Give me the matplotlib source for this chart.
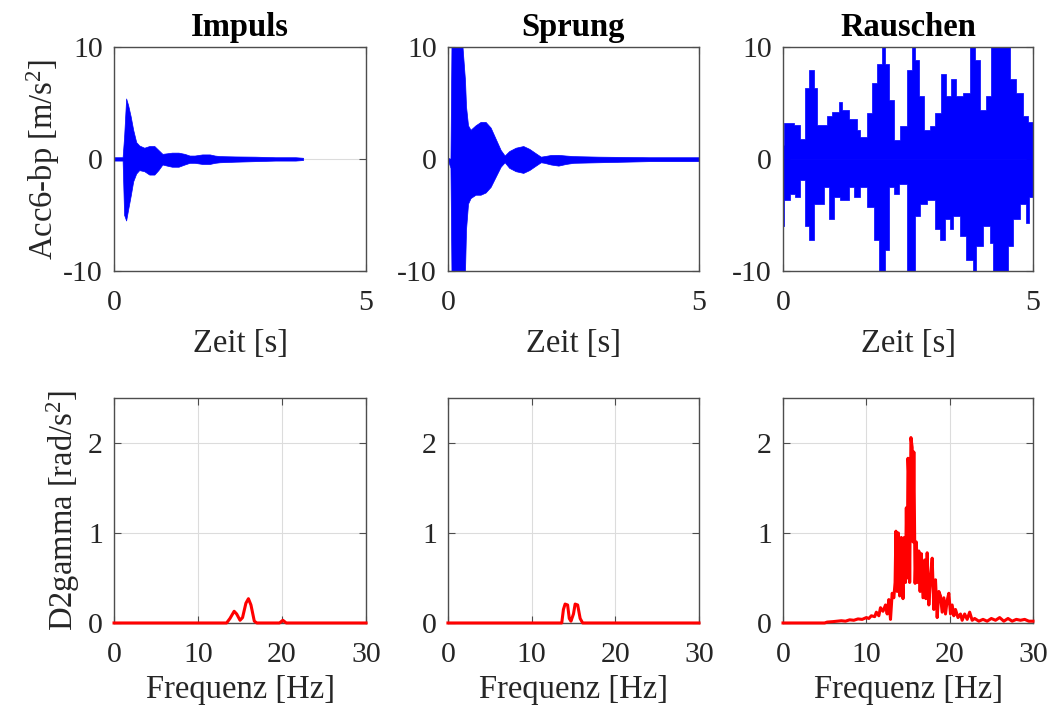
import matplotlib
matplotlib.use('Agg')
import matplotlib.pyplot as plt

plt.rcParams['font.family'] = ['Liberation Serif', 'DejaVu Serif']
plt.rcParams['mathtext.fontset'] = 'custom'
plt.rcParams['mathtext.rm'] = 'Liberation Serif'
plt.rcParams['mathtext.it'] = 'Liberation Serif:italic'
plt.rcParams['axes.unicode_minus'] = False

# ---- Zeitsignale (Hüllkurven oben/unten) ----
imp_t  = [0.00, 0.17, 0.20, 0.24, 0.28, 0.33, 0.38, 0.44, 0.50, 0.60, 0.70, 0.80, 0.88, 0.96,
          1.05, 1.15, 1.28, 1.40, 1.50, 1.60, 1.75, 1.90, 2.00, 2.10, 2.40, 2.80, 3.20, 3.60, 3.75]
imp_up = [0.15, 0.15, 2.0, 5.4, 4.8, 3.8, 2.6, 1.5, 1.2, 1.0, 1.15, 1.15, 0.8, 0.45,
          0.5, 0.56, 0.56, 0.45, 0.3, 0.3, 0.4, 0.4, 0.3, 0.25, 0.22, 0.2, 0.15, 0.15, 0.1]
imp_lo = [-0.15, -0.15, -5.0, -5.5, -4.5, -3.3, -2.0, -1.3, -1.0, -1.1, -1.4, -1.4, -1.0, -0.5,
          -0.6, -0.7, -0.7, -0.5, -0.35, -0.35, -0.45, -0.45, -0.35, -0.3, -0.25, -0.2, -0.15, -0.15, -0.1]

spr_t  = [0.00, 0.05, 0.07, 0.29, 0.34, 0.36, 0.40, 0.45, 0.55, 0.65, 0.75, 0.85, 0.95, 1.05,
          1.13, 1.22, 1.35, 1.50, 1.62, 1.75, 1.85, 1.92, 2.05, 2.20, 2.35, 2.50, 3.00, 4.00, 5.00]
spr_up = [0.1, 0.0, 10, 10, 7.0, 4.7, 3.0, 2.6, 3.0, 3.3, 3.3, 2.8, 1.8, 0.8,
          0.3, 0.7, 1.0, 1.15, 0.9, 0.5, 0.2, 0.25, 0.35, 0.36, 0.3, 0.25, 0.2, 0.15, 0.15]
spr_lo = [-0.1, -0.8, -10, -10, -10, -6.3, -4.0, -3.5, -3.2, -3.2, -3.0, -2.5, -1.6, -0.7,
          -0.3, -0.8, -1.1, -1.25, -1.0, -0.6, -0.3, -0.35, -0.5, -0.6, -0.45, -0.35, -0.3, -0.2, -0.2]

rau_up_t = [0.00, 0.02, 0.21, 0.34, 0.44, 0.51, 0.61, 0.67, 0.87, 0.97, 1.11, 1.17, 1.31, 1.47, 1.54,
            1.67, 1.77, 1.87, 1.97, 2.04, 2.11, 2.21, 2.34, 2.47, 2.57, 2.64, 2.71, 2.81, 2.94, 3.04,
            3.17, 3.27, 3.37, 3.47, 3.61, 3.74, 3.84, 3.94, 4.07, 4.17, 4.54, 4.67, 4.81, 4.91, 5.00]
rau_up   = [1.25, 3.2, 3.0, 1.8, 6.3, 7.9, 6.3, 3.0, 3.8, 4.2, 5.1, 4.4, 3.6, 2.6, 2.0,
            4.1, 6.8, 8.5, 10, 8.5, 5.3, 1.7, 2.9, 7.9, 10, 8.8, 5.6, 2.6, 2.9, 4.1,
            7.6, 5.6, 7.1, 5.6, 5.9, 10, 8.8, 4.4, 5.6, 10, 7.1, 5.9, 3.8, 3.3, 3.3]
rau_lo_t = [0.00, 0.02, 0.14, 0.24, 0.34, 0.44, 0.51, 0.61, 0.71, 0.81, 0.91, 1.01, 1.14, 1.31, 1.41,
            1.54, 1.67, 1.81, 1.91, 2.04, 2.11, 2.21, 2.31, 2.47, 2.64, 2.74, 2.87, 3.04, 3.14, 3.24,
            3.34, 3.41, 3.54, 3.67, 3.81, 3.87, 4.01, 4.14, 4.21, 4.51, 4.61, 4.74, 4.87, 4.93, 5.00]
rau_lo   = [-6.0, -3.7, -3.1, -3.4, -1.9, -6.0, -7.2, -4.0, -4.0, -2.5, -5.4, -3.4, -3.7, -2.5, -3.4,
            -2.5, -4.3, -7.2, -10, -8.1, -2.5, -3.1, -2.2, -10, -5.1, -4.0, -3.7, -6.3, -7.2, -5.4,
            -6.3, -5.1, -6.9, -9.0, -10, -7.8, -6.0, -7.5, -10, -7.8, -5.4, -4.0, -5.7, -3.4, -3.4]

# ---- Spektren ----
imp_f = [0, 13.4, 13.8, 14.3, 14.6, 15.0, 15.3, 15.7, 16.0, 16.3, 16.7, 17.0, 19.7, 20.1, 20.5, 30]
imp_a = [0, 0, 0.05, 0.13, 0.1, 0.03, 0.06, 0.22, 0.27, 0.2, 0.02, 0, 0, 0.03, 0, 0]

spr_f = [0, 13.6, 13.8, 14.0, 14.3, 14.5, 14.7, 15.0, 15.2, 15.5, 15.8, 16.1, 30]
spr_a = [0, 0, 0.15, 0.21, 0.2, 0.05, 0.02, 0.1, 0.21, 0.2, 0.05, 0, 0]

rau_f = [0, 5.0, 5.3, 6.0, 6.5, 7.0, 7.5, 8.0, 8.5, 9.0, 9.5, 10.0, 10.3, 10.6, 11.0, 11.2, 11.5,
         11.7, 12.0, 12.3, 12.5, 12.7, 12.9, 13.1, 13.3, 13.45, 13.55, 13.7, 13.85, 14.0, 14.2,
         14.4, 14.55, 14.7, 14.8, 14.9, 15.0, 15.1, 15.2, 15.35, 15.5, 15.6, 15.7, 15.85, 16.0,
         16.15, 16.3, 16.45, 16.6, 16.8, 17.0, 17.15, 17.3, 17.5, 17.7, 17.9, 18.1, 18.3, 18.5,
         18.7, 18.9, 19.1, 19.3, 19.5, 19.7, 19.9, 20.1, 20.3, 20.5, 20.7, 21.0, 21.3, 21.5, 21.8,
         22.1, 22.4, 22.7, 23.0, 23.5, 24.0, 24.5, 25.0, 25.5, 26.0, 26.5, 27.0, 27.5, 28.0, 28.5,
         29.0, 29.5, 30.0]
rau_a = [0, 0, 0.01, 0.015, 0.02, 0.025, 0.02, 0.035, 0.03, 0.045, 0.04, 0.06, 0.05, 0.08, 0.07,
         0.12, 0.08, 0.17, 0.13, 0.2, 0.1, 0.26, 0.04, 0.33, 0.28, 0.45, 1.02, 0.35, 1.0, 0.3, 0.95,
         0.27, 0.95, 0.45, 1.28, 0.5, 1.83, 1.6, 0.45, 2.06, 1.95, 0.9, 1.9, 0.44, 0.9,
         0.45, 0.8, 0.35, 0.77, 0.28, 0.7, 0.27, 0.78, 0.2, 0.5, 0.72, 0.15, 0.48, 0.06,
         0.35, 0.3, 0.12, 0.28, 0.1, 0.25, 0.33, 0.1, 0.2, 0.08, 0.15, 0.06, 0.1, 0.03, 0.1,
         0.04, 0.12, 0.03, 0.05, 0.02, 0.04, 0.02, 0.05, 0.03, 0.06, 0.02, 0.05, 0.02, 0.04, 0.03,
         0.04, 0.02, 0.02]

titles = ['Impuls', 'Sprung', 'Rauschen']
BOX = '#4d4d4d'
TXT = '#262626'

fig = plt.figure(figsize=(10.53, 7.11), dpi=100)
lefts = [0.1083, 0.4254, 0.7436]
widths = [0.2393, 0.2384, 0.2374]


def style(ax, xlim, ylim, xticks, yticks):
    ax.set_xlim(xlim)
    ax.set_ylim(ylim)
    ax.set_xticks(xticks)
    ax.set_yticks(yticks)
    ax.grid(True, color='#dcdcdc', linewidth=0.8)
    ax.set_axisbelow(True)
    ax.tick_params(direction='in', top=True, right=True, length=5, width=0.8,
                   color=BOX, labelsize=21.5, labelcolor=TXT)
    ax.tick_params(axis='x', pad=13.5)
    ax.tick_params(axis='y', pad=8)
    for s in ax.spines.values():
        s.set_color(BOX)
        s.set_linewidth(1.0)


top_axes = [fig.add_axes([lefts[i], 0.619, widths[i], 0.315]) for i in range(3)]
bot_axes = [fig.add_axes([lefts[i], 0.1238, widths[i], 0.3165]) for i in range(3)]

# obere Reihe: Beschleunigung
top_axes[0].fill_between(imp_t, imp_lo, imp_up, color='blue', linewidth=0.5)
top_axes[1].fill_between(spr_t, spr_lo, spr_up, color='blue', linewidth=0.5)
top_axes[2].fill_between(rau_up_t, 0, rau_up, step='post', color='blue', linewidth=0.5)
top_axes[2].fill_between(rau_lo_t, rau_lo, 0, step='post', color='blue', linewidth=0.5)

for i, ax in enumerate(top_axes):
    style(ax, (0, 5), (-10, 10), [0, 5], [-10, 0, 10])
    ax.set_title(titles[i], fontsize=23.5, fontweight='bold', pad=8)
    ax.set_xlabel('Zeit [s]', fontsize=23.5, color=TXT, labelpad=9)
top_axes[0].set_ylabel('Acc6-bp [m/s$^2$]', fontsize=23.5, color=TXT, labelpad=1)

# untere Reihe: Spektren
for ax, f, a in zip(bot_axes, [imp_f, spr_f, rau_f], [imp_a, spr_a, rau_a]):
    ax.plot(f, a, color='red', linewidth=2.2, clip_on=False, zorder=3)
    style(ax, (0, 30), (0, 2.5), [0, 10, 20, 30], [0, 1, 2])
    ax.set_xlabel('Frequenz [Hz]', fontsize=23.5, color=TXT, labelpad=5)
bot_axes[0].set_ylabel('D2gamma [rad/s$^2$]', fontsize=23.5, color=TXT, labelpad=4.5)

plt.savefig('out.png', dpi=100)
